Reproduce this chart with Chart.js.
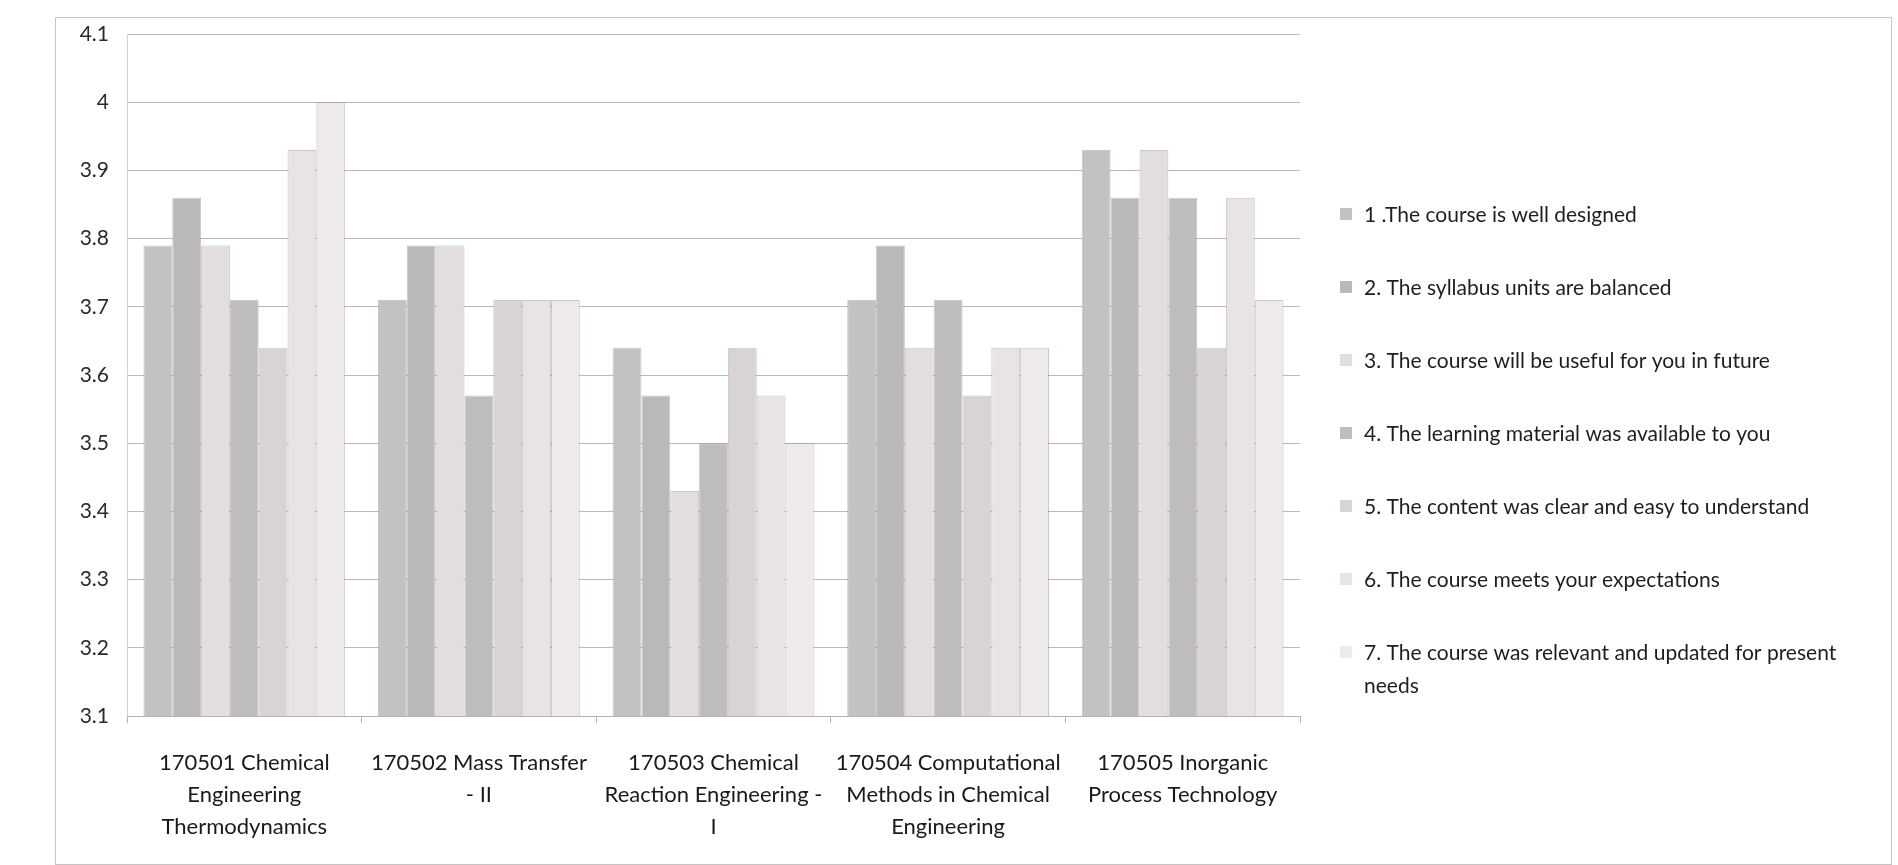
<!DOCTYPE html>
<html>
<head>
<meta charset="utf-8">
<script src="https://cdn.jsdelivr.net/npm/chart.js@4"></script>
<style>
  body { margin: 0; background: #fff; }
  #wrap { position: relative; width: 1898px; height: 865px; }
  #frame { position: absolute; left: 55px; top: 17px; width: 1835px; height: 846px; border: 1px solid #c9c2c5; }
  #chart { position: absolute; left: 0; top: 0; }
</style>
</head>
<body>
<div id="wrap">
  <div id="frame"></div>
  <canvas id="chart" width="1898" height="865"></canvas>
</div>
<script>
/* ---------- data ---------- */
const courses = [
  ["170501 Chemical", "Engineering", "Thermodynamics"],
  ["170502 Mass Transfer", "- II"],
  ["170503 Chemical", "Reaction Engineering -", "I"],
  ["170504 Computational", "Methods in Chemical", "Engineering"],
  ["170505 Inorganic", "Process Technology"],
];

const questions = [
  "1 .The course is well designed",
  "2. The syllabus units are balanced",
  "3. The course will be useful for you in future",
  "4. The learning material was available to you",
  "5. The content was clear and easy to understand",
  "6. The course meets your expectations",
  "7. The course was relevant and updated for present needs",
];

const q1 = [3.79, 3.71, 3.64, 3.71, 3.93];
const q2 = [3.86, 3.79, 3.57, 3.79, 3.86];
const q3 = [3.79, 3.79, 3.43, 3.64, 3.93];
const q4 = [3.71, 3.57, 3.50, 3.71, 3.86];
const q5 = [3.64, 3.71, 3.64, 3.57, 3.64];
const q6 = [3.93, 3.71, 3.57, 3.64, 3.86];
const q7 = [4.00, 3.71, 3.50, 3.64, 3.71];

const yMin = 3.1;
const yMax = 4.1;
const yStep = 0.1;

/* ---------- styling ---------- */
const FONT = "Lato, 'Liberation Sans', sans-serif";
const barColors = ["#c4c1c3", "#bbb8ba", "#e2dee0", "#bfbcbe", "#d8d4d6", "#e8e3e6", "#eeeaec"];
const series = [q1, q2, q3, q4, q5, q6, q7];

/* legend drawn on the canvas, placed like the original */
const sideLegend = {
  id: "sideLegend",
  afterDraw(chart) {
    const ctx = chart.ctx;
    ctx.save();
    ctx.font = "21px " + FONT;
    ctx.textBaseline = "middle";
    chart.data.datasets.forEach((ds, i) => {
      const y = 215 + i * 73;
      ctx.fillStyle = ds.backgroundColor;
      ctx.fillRect(1340, y - 7, 12, 12);
      ctx.fillStyle = "#1e1e1e";
      if (i === 6) {
        ctx.fillText("7. The course was relevant and updated for present", 1364, y);
        ctx.fillText("needs", 1364, y + 33);
      } else {
        ctx.fillText(ds.label, 1364, y);
      }
    });
    ctx.restore();
  },
};

new Chart(document.getElementById("chart"), {
  type: "bar",
  data: {
    labels: courses,
    datasets: series.map((values, i) => ({
      label: questions[i],
      data: values,
      backgroundColor: barColors[i],
      borderColor: "rgba(140,128,134,0.45)",
      borderWidth: 1,
      borderSkipped: "bottom",
      categoryPercentage: 0.86,
      barPercentage: 1.0,
    })),
  },
  options: {
    responsive: false,
    animation: false,
    layout: { padding: { left: 0, right: 598, top: 34, bottom: 0 } },
    plugins: {
      legend: { display: false },
      tooltip: { enabled: false },
    },
    scales: {
      x: {
        afterFit: (scale) => { scale.height = 149; },
        grid: { offset: true, drawOnChartArea: false, tickLength: 7, color: "#b9b1b4" },
        border: { display: true, color: "#b9b1b4" },
        ticks: {
          color: "#1a1a1a",
          font: { family: FONT, size: 22, lineHeight: 1.45 },
          padding: 24,
          maxRotation: 0,
          autoSkip: false,
        },
      },
      y: {
        min: yMin,
        max: yMax,
        afterFit: (scale) => { scale.width = 127; },
        ticks: {
          stepSize: yStep,
          color: "#2a2a2a",
          font: { family: FONT, size: 21 },
          padding: 18,
          callback: (v) => String(Number(v.toFixed(1))),
        },
        grid: { color: "rgba(170,150,158,0.7)", lineWidth: 1, tickLength: 0 },
        border: { display: true, color: "rgba(190,175,180,0.6)" },
      },
    },
  },
  plugins: [sideLegend],
});
</script>
</body>
</html>
